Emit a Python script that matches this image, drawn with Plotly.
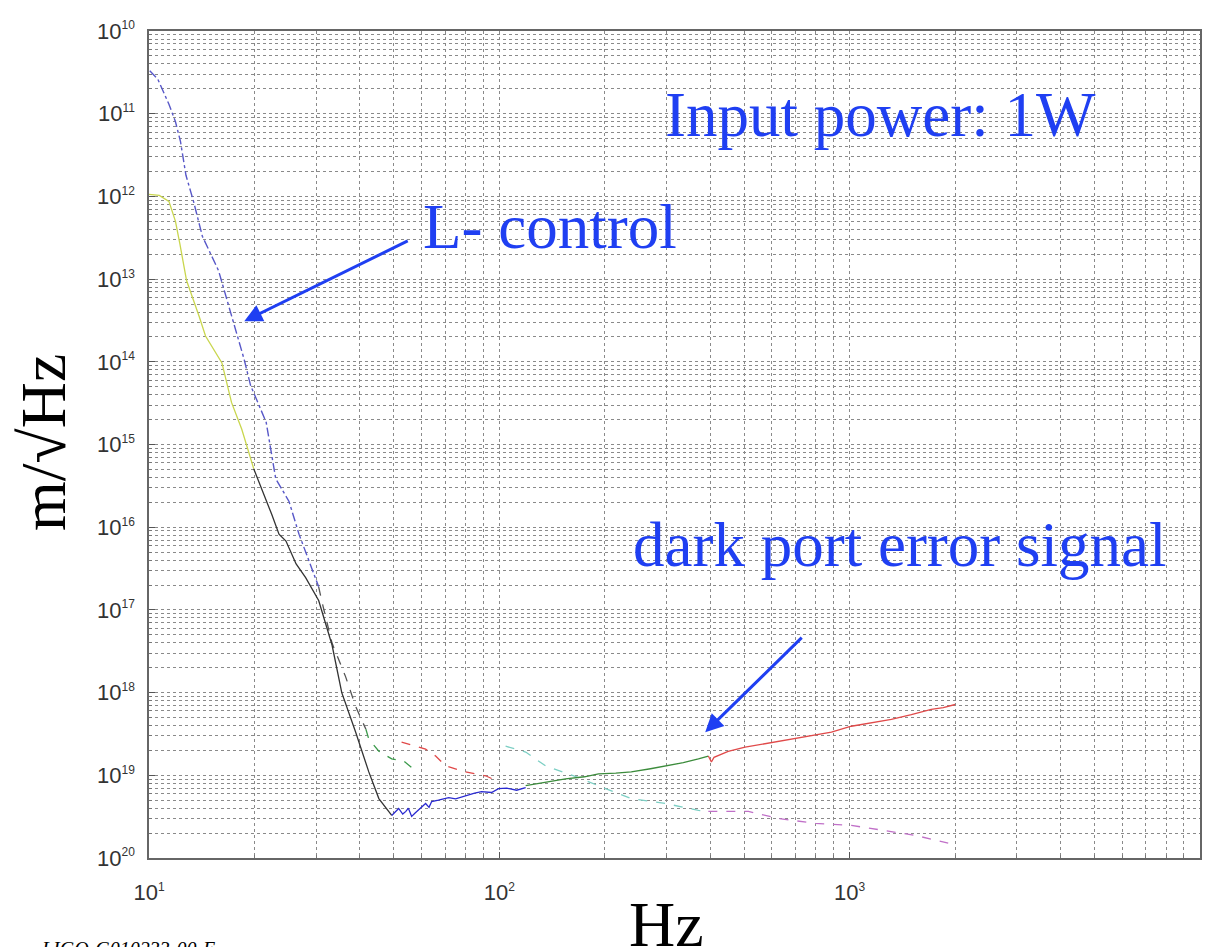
import plotly.graph_objects as go

# ---------------- data ----------------
# dark port error signal (solid), measured in bands
dp_yellow_f = [10.0, 10.7, 11.4, 11.9, 12.25, 12.8, 13.9, 14.5, 16.15, 17.2, 18.4, 19.3, 19.9]
dp_yellow_a = [1.06e-12, 1.03e-12, 8.7e-13, 5.0e-13, 2.66e-13, 9.6e-14, 3.56e-14, 2.05e-14,
               9.7e-15, 3.23e-15, 1.53e-15, 8.1e-16, 5.1e-16]

dp_black_f = [19.9, 21.0, 22.4, 23.5, 24.6, 26.3, 28.0, 30.5, 33.3, 35.5, 38.9, 42.4, 45.3, 49.3]
dp_black_a = [5.1e-16, 2.93e-16, 1.43e-16, 8.24e-17, 6.8e-17, 3.6e-17, 2.45e-17, 1.30e-17,
              3.76e-18, 1.0e-18, 3.32e-19, 1.10e-19, 5.23e-20, 3.27e-20]

dp_blue_f = [49.3, 51.6, 53.0, 54.1, 55.0, 56.2, 57.5, 58.9, 60.0, 61.6, 63.0, 64.1, 67.0,
             71.7, 75.0, 80.1, 85.0, 89.0, 95.0, 99.5, 105.0, 112.0, 118.9]
dp_blue_a = [3.27e-20, 3.97e-20, 3.4e-20, 3.66e-20, 4.0e-20, 3.18e-20, 3.5e-20, 3.86e-20, 4.2e-20,
             4.56e-20, 4.1e-20, 4.82e-20, 5.0e-20, 5.38e-20, 5.2e-20, 5.68e-20, 6.1e-20, 6.34e-20,
             6.2e-20, 6.89e-20, 7.0e-20, 6.6e-20, 7.08e-20]

dp_green_f = [118.9, 135.0, 154.5, 175.0, 191.9, 215.0, 238.0, 270.0, 298.0, 335.0, 370.0, 395.0]
dp_green_a = [7.48e-20, 8.2e-20, 9.08e-20, 9.6e-20, 1.04e-19, 1.06e-19, 1.10e-19, 1.2e-19,
              1.30e-19, 1.42e-19, 1.58e-19, 1.71e-19]

dp_red_f = [395.0, 403.0, 410.0, 450.0, 503.0, 570.0, 638.0, 750.0, 887.0, 1011.0, 1150.0,
            1315.0, 1500.0, 1709.0, 1850.0, 2000.0]
dp_red_a = [1.71e-19, 1.45e-19, 1.65e-19, 1.95e-19, 2.19e-19, 2.4e-19, 2.59e-19, 2.9e-19,
            3.32e-19, 3.92e-19, 4.3e-19, 4.75e-19, 5.4e-19, 6.26e-19, 6.6e-19, 7.18e-19]

# L- control (dashed), measured in bands
lc_blue_f = [10.05, 10.6, 11.4, 11.9, 12.3, 12.75, 13.4, 14.2, 15.8, 17.2, 18.7, 19.5, 21.6,
             23.0, 25.1, 26.8, 29.2, 30.5]
lc_blue_a = [3.3e-11, 2.6e-11, 1.3e-11, 8.0e-12, 4.6e-12, 1.8e-12, 8.7e-13, 3.3e-13, 1.26e-13,
             3.5e-14, 1.06e-14, 5.16e-15, 1.86e-15, 3.86e-16, 2.05e-16, 8.24e-17, 3.23e-17, 1.9e-17]

lc_black_f = [30.5, 31.1, 33.3, 36.4, 38.9, 41.6]
lc_black_a = [1.9e-17, 1.30e-17, 3.97e-18, 1.56e-18, 6.80e-19, 3.60e-19]

lc_green_f = [41.6, 42.4, 45.3, 49.3, 53.3, 57.7]
lc_green_a = [3.60e-19, 2.74e-19, 1.96e-19, 1.58e-19, 1.49e-19, 1.13e-19]

lc_red_f = [52.6, 57.0, 61.6, 65.8, 70.3, 80.1, 91.4, 99.5]
lc_red_a = [2.52e-19, 2.3e-19, 2.07e-19, 1.71e-19, 1.30e-19, 1.10e-19, 9.87e-20, 8.36e-20]

lc_cyan_f = [104.2, 118.9, 135.5, 171.7, 201.0, 238.0, 298.0, 370.0, 395.0]
lc_cyan_a = [2.25e-19, 1.91e-19, 1.30e-19, 9.08e-20, 6.89e-20, 5.23e-20, 4.56e-20, 3.76e-20, 3.66e-20]

lc_magenta_f = [395.0, 514.0, 625.0, 798.0, 1011.0, 1231.0, 1538.0, 1911.0]
lc_magenta_a = [3.66e-20, 3.66e-20, 3.01e-20, 2.62e-20, 2.48e-20, 2.16e-20, 1.88e-20, 1.51e-20]

x_tick_vals = [10, 100, 1000, 10000]
x_tick_exp = ["1", "2", "3", "4"]
y_tick_vals = [1e-10, 1e-11, 1e-12, 1e-13, 1e-14, 1e-15, 1e-16, 1e-17, 1e-18, 1e-19, 1e-20]
y_tick_exp = ["10", "11", "12", "13", "14", "15", "16", "17", "18", "19", "20"]

minor_mult = [2, 3, 4, 5, 6, 7, 8, 9]

# ---------------- figure ----------------
fig = go.Figure()

def add(f, a, color, dash, width=1.3):
    fig.add_trace(go.Scatter(x=f, y=a, mode="lines",
                             line=dict(color=color, dash=dash, width=width),
                             showlegend=False, hoverinfo="skip"))

# dashed L-control bands
add(lc_blue_f, lc_blue_a, "#5858c8", "dashdot", 1.4)
add(lc_black_f, lc_black_a, "#555555", "dash")
add(lc_green_f, lc_green_a, "#3a9a4a", "dash")
add(lc_red_f, lc_red_a, "#e04848", "dash")
add(lc_cyan_f, lc_cyan_a, "#7ccfc4", "dash")
add(lc_magenta_f, lc_magenta_a, "#c070c8", "dash")

# solid dark port bands
add(dp_yellow_f, dp_yellow_a, "#c9d64e", "solid")
add(dp_black_f, dp_black_a, "#333333", "solid")
add(dp_blue_f, dp_blue_a, "#2a2ad0", "solid")
add(dp_green_f, dp_green_a, "#3c8c3c", "solid")
add(dp_red_f, dp_red_a, "#e04a4a", "solid")

def sup_label(exp):
    return "10<sup><span style='font-size:12px'>" + exp + "</span></sup>"

x_minor_vals = [m * d for d in [10, 100, 1000] for m in minor_mult]
y_minor_vals = [m * d for d in [1e-20, 1e-19, 1e-18, 1e-17, 1e-16, 1e-15, 1e-14,
                                1e-13, 1e-12, 1e-11] for m in minor_mult]

grid_color = "#8a8a8a"
axis_common = dict(
    type="log",
    showline=True, mirror=True, linecolor="#666666", linewidth=1.5,
    showgrid=True, gridcolor=grid_color, griddash="dot", gridwidth=1,
    ticks="inside", ticklen=6, tickcolor="#555555",
    tickfont=dict(family="Liberation Sans, Arial, sans-serif", size=22, color="#333333"),
    zeroline=False,
)

fig.update_xaxes(
    **axis_common,
    range=[1, 4],
    tickvals=x_tick_vals, ticktext=[sup_label(e) for e in x_tick_exp],
    minor=dict(tickvals=x_minor_vals, showgrid=True, gridcolor=grid_color, griddash="dot",
               gridwidth=1, ticks="inside", ticklen=3, tickcolor="#777777"),
    ticklabelstandoff=14,
)
fig.update_yaxes(
    **axis_common,
    range=[-20, -10],
    tickvals=y_tick_vals, ticktext=[sup_label(e) for e in y_tick_exp],
    minor=dict(tickvals=y_minor_vals, showgrid=True, gridcolor=grid_color, griddash="dot",
               gridwidth=1, ticks="inside", ticklen=3, tickcolor="#777777"),
    ticklabelstandoff=8,
)

blue = "#1f3ff2"
serif = "Liberation Serif, Times New Roman, serif"

annotations = [
    dict(text="Input power: 1W", x=0.696, y=0.898, xref="paper", yref="paper",
         xanchor="center", yanchor="middle",
         showarrow=False, font=dict(family=serif, size=63, color=blue)),
    dict(text="L- control", x=0.382, y=0.7635, xref="paper", yref="paper",
         xanchor="center", yanchor="middle",
         showarrow=False, font=dict(family=serif, size=63, color=blue)),
    dict(text="dark port error signal", x=0.715, y=0.378, xref="paper", yref="paper",
         xanchor="center", yanchor="middle",
         showarrow=False, font=dict(family=serif, size=63, color=blue)),
    dict(text="m/√Hz", x=-0.0998, y=0.502, xref="paper", yref="paper", textangle=-90,
         xanchor="center", yanchor="middle",
         showarrow=False, font=dict(family=serif, size=64, color="black")),
    dict(text="Hz", x=0.4924, y=-0.0804, xref="paper", yref="paper",
         xanchor="center", yanchor="middle",
         showarrow=False, font=dict(family=serif, size=64, color="black")),
    dict(text="<i>LIGO-G010233-00-E</i>", x=-0.1046, y=-0.094, xref="paper", yref="paper",
         xanchor="left", yanchor="top",
         showarrow=False, font=dict(family=serif, size=20, color="black")),
    # arrows
    dict(x=1.2718, y=-13.509, xref="x", yref="y", text="", showarrow=True,
         ax=165, ay=-81, arrowhead=2, arrowsize=1.2, arrowwidth=3, arrowcolor=blue),
    dict(x=2.5877, y=-18.479, xref="x", yref="y", text="", showarrow=True,
         ax=98, ay=-96, arrowhead=2, arrowsize=1.2, arrowwidth=3, arrowcolor=blue),
]

# the page body has an 8px default margin, so the figure is sized/offset to compensate
fig.update_layout(
    width=1204, height=939,
    margin=dict(l=141, r=10, t=17, b=89),
    paper_bgcolor="white", plot_bgcolor="white",
    annotations=annotations,
    showlegend=False,
)

fig.write_html("out.html")
